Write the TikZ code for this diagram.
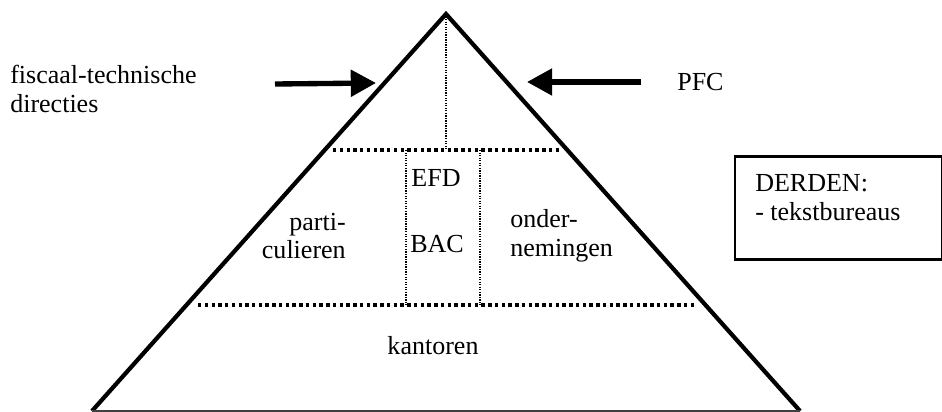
\documentclass[tikz,border=0pt]{standalone}
\usepackage{fontspec}
\setmainfont{Liberation Serif}
\usetikzlibrary{arrows.meta}

\begin{document}
\begin{tikzpicture}[
    x=0.025cm, y=-0.025cm,
    edge/.style={line width=3pt, line join=miter},
    baseline/.style={line width=1.4pt, black!75},
    level/.style={line width=2.6pt, dash pattern=on 2.4pt off 2.4pt},
    divider/.style={line width=0.9pt, dash pattern=on 0.9pt off 0.9pt},
    pointer/.style={line width=3.8pt, -{Triangle[length=0.63cm, width=0.65cm]}},
    txt/.style={inner sep=0pt, font=\fontsize{18.5}{20.5}\selectfont}
]
    % Canvas
    \fill[white] (0,0) rectangle (942,412);
    \useasboundingbox (0,0) rectangle (942,412);

    % Pyramid corners
    \coordinate (apex) at (446,14);
    \coordinate (bl) at (92,411);
    \coordinate (br) at (800,411);

    \draw[edge] (bl) -- (apex) -- (br);
    \draw[baseline] (bl) -- (br);

    % Levels
    \coordinate (topl) at (333,150);
    \coordinate (topr) at (560,150);
    \coordinate (botl) at (198,305);
    \coordinate (botr) at (694,305);
    \draw[level] (topl) -- (topr);
    \draw[level] (botl) -- (botr);

    % Vertical dividers
    \coordinate (mid) at (446,150);
    \coordinate (colla) at (406,150);
    \coordinate (collb) at (406,305);
    \coordinate (colra) at (480,150);
    \coordinate (colrb) at (480,305);
    \draw[divider] (apex) -- (mid);
    \draw[divider] (colla) -- (collb);
    \draw[divider] (colra) -- (colrb);

    % Segment labels
    \node[txt, anchor=east, align=right] (part) at (346,236) {parti-\\culieren};
    \node[txt] (efd) at (436,178) {EFD};
    \node[txt] (bac) at (437,244) {BAC};
    \node[txt, anchor=west, align=left] (onder) at (510,236) {onder-\\nemingen};
    \node[txt] (kant) at (433,346) {kantoren};

    % Outside actors
    \node[txt, anchor=west, align=left] (fisc) at (10,89) {fiscaal-technische\\directies};
    \node[txt, anchor=west] (pfc) at (677,82) {PFC};

    \coordinate (fisctail) at (275,84);
    \coordinate (fisctip) at (376,83);
    \coordinate (pfctail) at (641,82);
    \coordinate (pfctip) at (527,82);
    \draw[pointer] (fisctail) -- (fisctip);
    \draw[pointer] (pfctail) -- (pfctip);

    % Third parties
    \node[draw, line width=1.8pt, minimum width=207*0.025cm, minimum height=103*0.025cm,
          anchor=north west] (derden) at (733.5,155) {};
    \node[txt, anchor=west, align=left] (derdtxt) at (755,198) {DERDEN:\\- tekstbureaus};
\end{tikzpicture}
\end{document}
